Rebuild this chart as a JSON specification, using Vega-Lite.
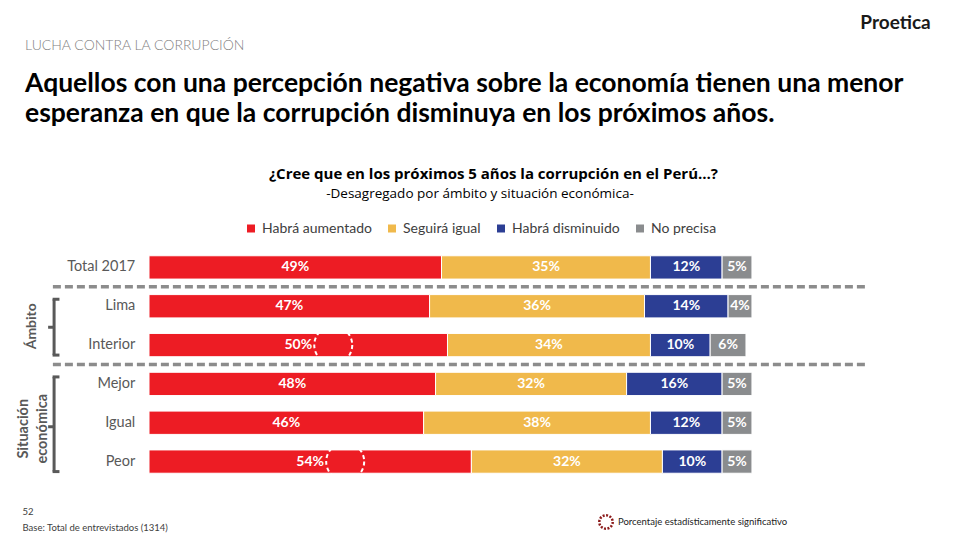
{
  "$schema": "https://vega.github.io/schema/vega-lite/v6.json",
  "width": 960,
  "height": 233,
  "autosize": "none",
  "padding": {"left": 0, "right": 0, "top": 248, "bottom": 59},
  "background": "white",
  "config": {"font": "Lato", "view": {"stroke": null}},
  "title": {
    "text": "LUCHA CONTRA LA CORRUPCIÓN",
    "subtitle": [
      "Aquellos con una percepción negativa sobre la economía tienen una menor",
      "esperanza en que la corrupción disminuya en los próximos años."
    ],
    "anchor": "start",
    "frame": "group",
    "dx": 25,
    "offset": -114,
    "fontSize": 14,
    "fontWeight": 300,
    "color": "#7f7f7f",
    "subtitleFont": "Lato",
    "subtitleFontSize": 26.5,
    "subtitleFontWeight": "bold",
    "subtitleColor": "#000000",
    "subtitlePadding": 18,
    "subtitleLineHeight": 30,
    "limit": 0
  },
  "datasets": {
    "answers": [
      {"cat": "Total 2017", "resp": "Habrá aumentado", "k": 1, "v": 49, "sig": false},
      {"cat": "Total 2017", "resp": "Seguirá igual", "k": 2, "v": 35, "sig": false},
      {"cat": "Total 2017", "resp": "Habrá disminuido", "k": 3, "v": 12, "sig": false},
      {"cat": "Total 2017", "resp": "No precisa", "k": 4, "v": 5, "sig": false},
      {"cat": "Lima", "resp": "Habrá aumentado", "k": 1, "v": 47, "sig": false},
      {"cat": "Lima", "resp": "Seguirá igual", "k": 2, "v": 36, "sig": false},
      {"cat": "Lima", "resp": "Habrá disminuido", "k": 3, "v": 14, "sig": false},
      {"cat": "Lima", "resp": "No precisa", "k": 4, "v": 4, "sig": false},
      {"cat": "Interior", "resp": "Habrá aumentado", "k": 1, "v": 50, "sig": true},
      {"cat": "Interior", "resp": "Seguirá igual", "k": 2, "v": 34, "sig": false},
      {"cat": "Interior", "resp": "Habrá disminuido", "k": 3, "v": 10, "sig": false},
      {"cat": "Interior", "resp": "No precisa", "k": 4, "v": 6, "sig": false},
      {"cat": "Mejor", "resp": "Habrá aumentado", "k": 1, "v": 48, "sig": false},
      {"cat": "Mejor", "resp": "Seguirá igual", "k": 2, "v": 32, "sig": false},
      {"cat": "Mejor", "resp": "Habrá disminuido", "k": 3, "v": 16, "sig": false},
      {"cat": "Mejor", "resp": "No precisa", "k": 4, "v": 5, "sig": false},
      {"cat": "Igual", "resp": "Habrá aumentado", "k": 1, "v": 46, "sig": false},
      {"cat": "Igual", "resp": "Seguirá igual", "k": 2, "v": 38, "sig": false},
      {"cat": "Igual", "resp": "Habrá disminuido", "k": 3, "v": 12, "sig": false},
      {"cat": "Igual", "resp": "No precisa", "k": 4, "v": 5, "sig": false},
      {"cat": "Peor", "resp": "Habrá aumentado", "k": 1, "v": 54, "sig": true},
      {"cat": "Peor", "resp": "Seguirá igual", "k": 2, "v": 32, "sig": false},
      {"cat": "Peor", "resp": "Habrá disminuido", "k": 3, "v": 10, "sig": false},
      {"cat": "Peor", "resp": "No precisa", "k": 4, "v": 5, "sig": false}
    ],
    "brackets": [
      {"group": "Ámbito", "label": "Ámbito", "cat": "Lima", "to": "Interior"},
      {"group": "Situación económica", "label": "Situación\neconómica", "cat": "Mejor", "to": "Peor"}
    ],
    "separators": [
      {"cat": "Total 2017"},
      {"cat": "Interior"}
    ]
  },
  "resolve": {"axis": {"y": "independent"}},
  "encoding": {
    "y": {
      "field": "cat",
      "type": "nominal",
      "scale": {"domain": ["Total 2017", "Lima", "Interior", "Mejor", "Igual", "Peor"], "paddingInner": 0.4, "paddingOuter": 0.2},
      "axis": null
    }
  },
  "layer": [
    {
      "data": {"name": "answers"},
      "transform": [
        {"stack": "v", "groupby": ["cat"], "sort": [{"field": "k"}], "as": ["v0", "v1"]}
      ],
      "mark": {"type": "bar", "stroke": "white", "strokeWidth": 1},
      "encoding": {
        "y": {
          "field": "cat",
          "type": "nominal",
          "scale": {"domain": ["Total 2017", "Lima", "Interior", "Mejor", "Igual", "Peor"], "paddingInner": 0.4, "paddingOuter": 0.2},
          "axis": {
            "orient": "left", "labels": false, "ticks": false, "domain": false, "grid": false,
            "title": ["52", "Base: Total de entrevistados (1314)"],
            "titleAngle": 0, "titleAlign": "left", "titleBaseline": "alphabetic",
            "titleX": 22, "titleY": 266, "titleFontSize": 9.5, "titleFontWeight": "normal",
            "titleColor": "#404040", "titleLineHeight": 16, "titleLimit": 0
          }
        },
        "x": {
          "field": "v0",
          "type": "quantitative",
          "scale": {"domain": [-24.96, 135.85], "nice": false, "zero": false},
          "axis": {
            "orient": "top", "labels": false, "ticks": false, "domain": false, "grid": false,
            "title": "¿Cree que en los próximos 5 años la corrupción en el Perú…?",
            "titleX": 493, "titleY": -75, "titleAnchor": "middle", "titleAlign": "center",
            "titleFont": "Open Sans", "titleFontSize": 15, "titleFontWeight": "bold",
            "titleColor": "#000000", "titleBaseline": "middle", "titleLimit": 0
          }
        },
        "x2": {"field": "v1"},
        "color": {
          "field": "resp",
          "type": "nominal",
          "scale": {
            "domain": ["Habrá aumentado", "Seguirá igual", "Habrá disminuido", "No precisa"],
            "range": ["#ED1C24", "#F0B94B", "#2C3E94", "#8A8C8E"]
          },
          "legend": {
            "orient": "none", "legendX": 244, "legendY": -61,
            "direction": "horizontal", "columns": 4,
            "title": "-Desagregado por ámbito y situación económica-",
            "titleAnchor": "middle", "titleFont": "Open Sans", "titleFontSize": 13.5, "titleFontWeight": "normal",
            "titleColor": "#000000", "titlePadding": 21, "titleLimit": 0,
            "symbolType": "square", "symbolSize": 64, "symbolStrokeWidth": 0,
            "labelFontSize": 14, "labelColor": "#404040", "columnPadding": 13, "labelOffset": 4,
            "labelLimit": 0
          }
        }
      }
    },
    {
      "data": {"name": "answers"},
      "transform": [
        {"stack": "v", "groupby": ["cat"], "sort": [{"field": "k"}], "as": ["v0", "v1"]},
        {"calculate": "(datum.v0 + datum.v1) / 2", "as": "mid"},
        {"calculate": "datum.v + '%'", "as": "label"}
      ],
      "mark": {"type": "text", "color": "white", "fontWeight": "bold", "fontSize": 14, "baseline": "middle"},
      "encoding": {
        "x": {"field": "mid", "type": "quantitative"},
        "text": {"field": "label"}
      }
    },
    {
      "data": {"name": "answers"},
      "transform": [
        {"filter": "datum.sig"},
        {"calculate": "datum.v / 2", "as": "mid"}
      ],
      "mark": {"type": "point", "shape": "circle", "filled": false, "stroke": "white", "strokeWidth": 2, "strokeDash": [4, 3], "size": 1444, "xOffset": 35, "opacity": 1},
      "encoding": {
        "x": {"field": "mid", "type": "quantitative"},
        "shape": {
          "datum": "Porcentaje estadísticamente significativo",
          "scale": {"range": ["circle"]},
          "legend": {
            "orient": "none", "legendX": 598, "legendY": 266, "title": null,
            "symbolStrokeColor": "#8B1A1A", "symbolFillColor": "transparent",
            "symbolDash": [2, 1.5], "symbolStrokeWidth": 2.5, "symbolSize": 180,
            "labelFontSize": 9.5, "labelColor": "#222222", "labelLimit": 0
          }
        }
      }
    },
    {
      "data": {"name": "answers"},
      "transform": [{"filter": "datum.k == 1"}],
      "mark": {"type": "text", "align": "right", "baseline": "middle", "fontSize": 14.5, "color": "#595959"},
      "encoding": {
        "x": {"datum": -2.3},
        "text": {"field": "cat"},
        "y": {
          "field": "cat",
          "type": "nominal",
          "scale": {"domain": ["Total 2017", "Lima", "Interior", "Mejor", "Igual", "Peor"], "paddingInner": 0.4, "paddingOuter": 0.2},
          "axis": {
            "orient": "right", "labels": false, "ticks": false, "domain": false, "grid": false,
            "title": "Proetica", "titleAngle": 0, "titleAlign": "center", "titleBaseline": "middle",
            "titleX": -65, "titleY": -226, "titleFontSize": 19, "titleFontWeight": "bold", "titleColor": "#1a1a1a"
          }
        }
      }
    },
    {
      "data": {"name": "separators"},
      "mark": {"type": "rule", "stroke": "#8c8c8c", "strokeWidth": 3.5, "strokeDash": [8, 4], "yOffset": 19.4},
      "encoding": {
        "x": {"datum": -16.1},
        "x2": {"datum": 120}
      }
    },
    {
      "data": {"name": "brackets"},
      "mark": {"type": "rule", "stroke": "#595959", "strokeWidth": 3, "yOffset": -7, "y2Offset": 10},
      "encoding": {
        "x": {"datum": -15.9},
        "y2": {"field": "to"}
      }
    },
    {
      "data": {"name": "brackets"},
      "mark": {"type": "rule", "stroke": "#595959", "strokeWidth": 3, "yOffset": -7},
      "encoding": {
        "x": {"datum": -16.15},
        "x2": {"datum": -15.0}
      }
    },
    {
      "data": {"name": "brackets"},
      "mark": {"type": "rule", "stroke": "#595959", "strokeWidth": 3, "yOffset": 10},
      "encoding": {
        "x": {"datum": -16.15},
        "x2": {"datum": -15.0},
        "y": {
          "field": "to",
          "type": "nominal",
          "scale": {"domain": ["Total 2017", "Lima", "Interior", "Mejor", "Igual", "Peor"], "paddingInner": 0.4, "paddingOuter": 0.2},
          "axis": null
        }
      }
    },
    {
      "data": {"name": "brackets"},
      "transform": [{"filter": "datum.group == 'Ámbito'"}],
      "layer": [
        {
          "mark": {"type": "rule", "stroke": "#595959", "strokeWidth": 3, "yOffset": 21},
          "encoding": {"x": {"datum": -16.9}, "x2": {"datum": -15.9}}
        },
        {
          "mark": {"type": "text", "angle": 270, "align": "center", "baseline": "middle", "fontSize": 14, "fontWeight": "bold", "color": "#595959", "yOffset": 20},
          "encoding": {"x": {"datum": -19.6}, "text": {"field": "label"}}
        }
      ]
    },
    {
      "data": {"name": "brackets"},
      "transform": [
        {"filter": "datum.group == 'Situación económica'"},
        {"calculate": "'Igual'", "as": "cat"}
      ],
      "layer": [
        {
          "mark": {"type": "rule", "stroke": "#595959", "strokeWidth": 3, "yOffset": 4},
          "encoding": {"x": {"datum": -16.9}, "x2": {"datum": -15.9}}
        },
        {
          "mark": {"type": "text", "angle": 270, "align": "center", "baseline": "middle", "fontSize": 14.5, "fontWeight": "bold", "color": "#595959", "yOffset": 6, "lineBreak": "\n", "lineHeight": 19},
          "encoding": {"x": {"datum": -20.9}, "text": {"field": "label"}}
        }
      ]
    }
  ]
}
